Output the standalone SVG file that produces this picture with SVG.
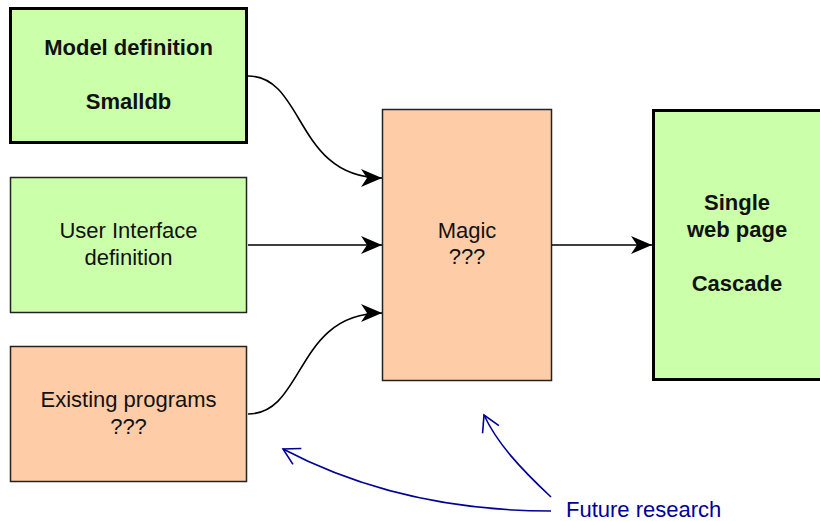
<svg xmlns="http://www.w3.org/2000/svg" width="820" height="521" viewBox="0 0 820 521">
<style>
text{font-family:"Liberation Sans",Arial,sans-serif;font-size:22px;fill:#111;text-anchor:middle}
.b{font-weight:bold}
.green{fill:#ccffaa}
.orange{fill:#ffcca8}
.thick{stroke:#000;stroke-width:3}
.thin{stroke:#222;stroke-width:1.5}
.conn{fill:none;stroke:#000;stroke-width:1.6}
.blue{fill:none;stroke:#000099;stroke-width:1.6}
.note{fill:#000099;text-anchor:start}
</style>
<defs>
<marker id="ah" markerUnits="userSpaceOnUse" markerWidth="24" markerHeight="20" refX="21" refY="9" orient="auto">
<path d="M0,0 L21,9 L0,18 L6,9 Z" fill="#000"/>
</marker>
<marker id="oh" markerUnits="userSpaceOnUse" markerWidth="24" markerHeight="24" refX="20" refY="12" orient="auto">
<path d="M4,3 L20,12 L4,21" fill="none" stroke="#000099" stroke-width="1.6"/>
</marker>
</defs>
<g id="model">
<rect class="green thick" x="10.5" y="8.5" width="236" height="134"/>
<text class="b" x="128.5" y="55">Model definition</text>
<text class="b" x="128.5" y="109">Smalldb</text>
</g>
<g id="ui">
<rect class="green thin" x="10.5" y="177.5" width="236" height="135"/>
<text x="128.5" y="238">User Interface</text>
<text x="128.5" y="265">definition</text>
</g>
<g id="existing">
<rect class="orange thin" x="10.5" y="346.5" width="236" height="135"/>
<text x="128.5" y="407">Existing programs</text>
<text x="128.5" y="434">???</text>
</g>
<g id="magic">
<rect class="orange thin" x="382.5" y="109.5" width="169" height="271"/>
<text x="467" y="238">Magic</text>
<text x="467" y="264">???</text>
</g>
<g id="single">
<rect class="green thick" x="653.5" y="110.5" width="180" height="269"/>
<text class="b" x="737" y="210">Single</text>
<text class="b" x="737" y="237">web page</text>
<text class="b" x="737" y="291">Cascade</text>
</g>
<g id="note">
<text class="note" x="566" y="517">Future research</text>
</g>
<g id="connectors">
<path class="conn" d="M248,76 C305,76 295,178 382,178" marker-end="url(#ah)"/>
<path class="conn" d="M248,245 L382,245" marker-end="url(#ah)"/>
<path class="conn" d="M248,414 C305,414 295,313 382,313" marker-end="url(#ah)"/>
<path class="conn" d="M552,245 L652,245" marker-end="url(#ah)"/>
<path class="blue" d="M551,511 C455,511 365,492 283,449" marker-end="url(#oh)"/>
<path class="blue" d="M551,497 C520,468 497,443 484,415" marker-end="url(#oh)"/>
</g>
</svg>
